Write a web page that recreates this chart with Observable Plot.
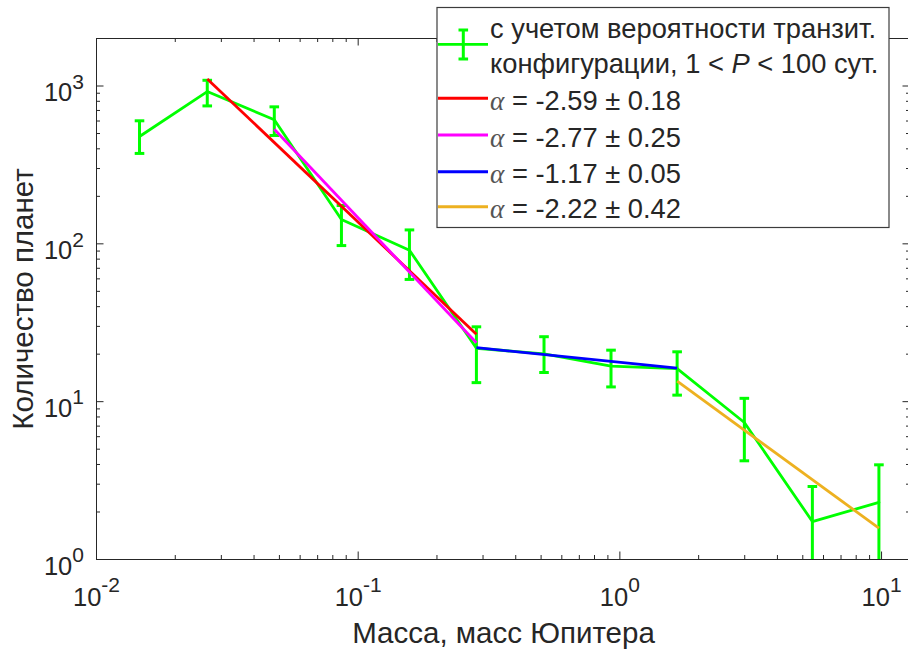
<!DOCTYPE html>
<html><head><meta charset="utf-8">
<script src="https://cdn.jsdelivr.net/npm/d3@7"></script>
<script src="https://cdn.jsdelivr.net/npm/@observablehq/plot@0.6"></script>
<style>html,body{margin:0;padding:0;background:#fff;overflow:hidden;}</style>
</head><body><div id="chart"></div>
<script>
// ---- data ----
const massBins = [0.0146, 0.0265, 0.0478, 0.0863, 0.157, 0.283, 0.513, 0.925, 1.655, 2.99, 5.44, 9.77];
const counts   = [479, 922, 611, 142.5, 91.1, 21.8, 20.1, 16.8, 16.2, 7.38, 1.74, 2.30];
const errLow   = [374, 748, 486, 97.5, 59.5, 13.2, 15.3, 12.4, 11.0, 4.22, 0.5, 0.5];
const errHigh  = [602, 1087, 738, 175, 122.5, 29.8, 25.8, 21.2, 20.7, 10.5, 2.90, 3.98];

const fitLabels = ["-2.59 ± 0.18", "-2.77 ± 0.25", "-1.17 ± 0.05", "-2.22 ± 0.42"];
const fitColors = ["#ff0000", "#ff00ff", "#0000ff", "#edb120"];
const fitX0 = [0.0265, 0.0478, 0.283, 1.655];
const fitX1 = [0.283, 0.283, 1.655, 9.77];
const fitY0 = [1109, 532, 22.0, 13.5];
const fitY1 = [26.7, 23.6, 16.3, 1.58];

const xTicks = [0.01, 0.1, 1, 10];
const xTickExp = ["-2", "-1", "0", "1"];
const yTicks = [1, 10, 100, 1000];
const yTickExp = ["0", "1", "2", "3"];
const xLabel = "Масса, масс Юпитера";
const yLabel = "Количество планет";
const legendLine1 = "с учетом вероятности транзит.";
const legendLine2 = ["конфигурации, 1 < ", "P", " < 100 сут."];

// ---- derived tables ----
const points = massBins.map((m, i) => ({m, n: counts[i], lo: errLow[i], hi: errHigh[i]}));
const fits = fitLabels.map((label, i) => ({label, color: fitColors[i], x0: fitX0[i], x1: fitX1[i], y0: fitY0[i], y1: fitY1[i]}));
const xMinor = [];
[0.01, 0.1, 1].forEach(d => { for (let k = 2; k <= 9; k++) xMinor.push(d * k); });
const yMinor = [];
[1, 10, 100].forEach(d => { for (let k = 2; k <= 9; k++) yMinor.push(d * k); });

const GREEN = "#00ff00";
const AX = "#262626";
const FONT = "'Liberation Sans', Arial, Helvetica, sans-serif";
const W = 912, H = 653, ML = 96, MR = 2, MT = 38, MB = 94;
const FW = W - ML - MR, FH = H - MT - MB;
const MAJ = 7.5, MIN = 4;

const capSymbol = {draw(ctx, size) { const r = Math.sqrt(size / Math.PI); ctx.moveTo(-r, 0); ctx.lineTo(r, 0); }};

const chart = Plot.plot({
  width: W, height: H,
  marginLeft: ML, marginRight: MR, marginTop: MT, marginBottom: MB,
  style: {fontFamily: FONT, background: "white", maxWidth: "none", overflow: "visible"},
  x: {type: "log", domain: [0.01, 12.9], axis: null},
  y: {type: "log", domain: [1, 2000], axis: null},
  marks: [
    // data
    Plot.line(points, {x: "m", y: "n", stroke: GREEN, strokeWidth: 2.8, clip: true}),
    Plot.ruleX(points, {x: "m", y1: "lo", y2: "hi", stroke: GREEN, strokeWidth: 3, clip: true}),
    Plot.dot(points, {x: "m", y: "hi", symbol: capSymbol, r: 4.8, stroke: GREEN, strokeWidth: 3, clip: true}),
    Plot.dot(points.filter(d => d.lo >= 1), {x: "m", y: "lo", symbol: capSymbol, r: 4.8, stroke: GREEN, strokeWidth: 3, clip: true}),
    Plot.link(fits, {x1: "x0", y1: "y0", x2: "x1", y2: "y1", stroke: "color", strokeWidth: 2.8}),
    // frame
    Plot.frame({stroke: AX, strokeWidth: 1}),
    // ticks (inward)
    Plot.tickX(xTicks, {x: d => d, insetTop: FH - MAJ, stroke: AX}),
    Plot.tickX(xTicks, {x: d => d, insetBottom: FH - MAJ, stroke: AX}),
    Plot.tickX(xMinor, {x: d => d, insetTop: FH - MIN, stroke: AX}),
    Plot.tickX(xMinor, {x: d => d, insetBottom: FH - MIN, stroke: AX}),
    Plot.tickY(yTicks, {y: d => d, insetRight: FW - MAJ, stroke: AX}),
    Plot.tickY(yTicks, {y: d => d, insetLeft: FW - MAJ, stroke: AX}),
    Plot.tickY(yMinor, {y: d => d, insetRight: FW - MIN, stroke: AX}),
    Plot.tickY(yMinor, {y: d => d, insetLeft: FW - MIN, stroke: AX}),
    // tick labels
    Plot.text(xTicks, {x: d => d, frameAnchor: "bottom", lineAnchor: "middle", textAnchor: "middle",
      text: (d, i) => "10^" + xTickExp[i], dy: 38, fontSize: 25.5, fill: AX}),
    Plot.text(yTicks, {y: d => d, frameAnchor: "left", lineAnchor: "middle", textAnchor: "end",
      text: (d, i) => "10^" + yTickExp[i], dx: -12.5, dy: 7, fontSize: 25.5, fill: AX}),
    // axis labels
    Plot.text([xLabel], {frameAnchor: "bottom", lineAnchor: "middle", textAnchor: "middle",
      text: d => d, dy: 74, fontSize: 29.5, fill: AX}),
    Plot.text([yLabel], {frameAnchor: "left", lineAnchor: "middle", textAnchor: "middle",
      text: d => d, rotate: -90, dx: -73, fontSize: 29.5, fill: AX})
  ]
});
document.getElementById("chart").appendChild(chart);

// superscript exponents for tick labels
d3.select(chart).selectAll("text").each(function() {
  const t = d3.select(this);
  const s = t.text();
  if (!s.includes("^")) return;
  const parts = s.split("^");
  const isY = t.attr("text-anchor") === "end" || this.parentNode.getAttribute("text-anchor") === "end";
  t.text(null);
  t.append("tspan").text(parts[0]);
  t.append("tspan").attr("font-size", 21).attr("dy", isY ? -12.5 : -14).text(parts[1]);
});

// legend
const svg = d3.select(chart);
const lg = svg.append("g").attr("font-family", FONT).attr("fill", AX).attr("font-size", 27.3).attr("text-anchor", "start");
lg.append("rect").attr("x", 437).attr("y", 7.5).attr("width", 452).attr("height", 220)
  .attr("fill", "white").attr("stroke", "#3c3c3c").attr("stroke-width", 1.2);
// green errorbar symbol
lg.append("line").attr("x1", 438).attr("x2", 488).attr("y1", 44.3).attr("y2", 44.3).attr("stroke", GREEN).attr("stroke-width", 2.8);
lg.append("line").attr("x1", 463.3).attr("x2", 463.3).attr("y1", 30).attr("y2", 59).attr("stroke", GREEN).attr("stroke-width", 3);
lg.append("line").attr("x1", 458.5).attr("x2", 468.1).attr("y1", 30).attr("y2", 30).attr("stroke", GREEN).attr("stroke-width", 3);
lg.append("line").attr("x1", 458.5).attr("x2", 468.1).attr("y1", 59).attr("y2", 59).attr("stroke", GREEN).attr("stroke-width", 3);
lg.append("text").attr("x", 490).attr("y", 37.5).text(legendLine1);
const l2 = lg.append("text").attr("x", 490).attr("y", 73.3);
l2.append("tspan").text(legendLine2[0]);
l2.append("tspan").attr("font-style", "italic").text(legendLine2[1]);
l2.append("tspan").text(legendLine2[2]);
const rowLineY = [98.3, 135, 171.7, 206.7];
fits.forEach((f, i) => {
  lg.append("line").attr("x1", 438).attr("x2", 488).attr("y1", rowLineY[i]).attr("y2", rowLineY[i])
    .attr("stroke", f.color).attr("stroke-width", 3);
  const t = lg.append("text").attr("x", 490).attr("y", rowLineY[i] + 11.7);
  t.append("tspan").attr("font-family", "'Liberation Serif', 'Times New Roman', serif").attr("font-style", "italic").attr("fill", "#555").text("α");
  t.append("tspan").text(" = " + f.label);
});
</script>
</body></html>
